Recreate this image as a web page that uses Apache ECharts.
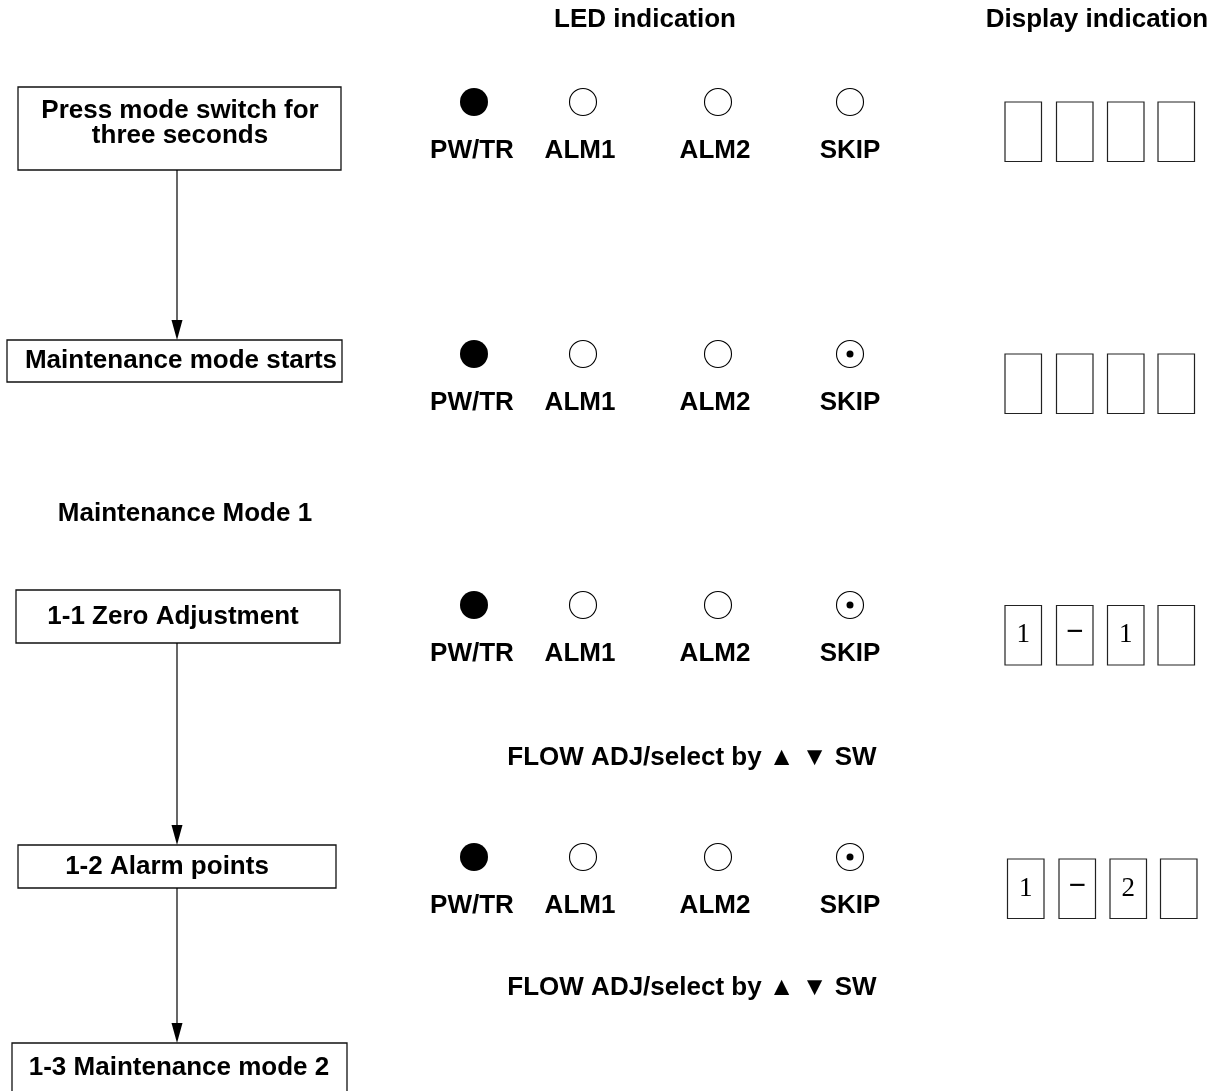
<!DOCTYPE html>
<html><head><meta charset="utf-8">
<script src="https://cdn.jsdelivr.net/npm/echarts@6/dist/echarts.min.js"></script>
<style>html,body{margin:0;padding:0;background:#fff}#c{width:1227px;height:1091px}</style>
</head><body><div id="c"></div>
<script>
// ---- data ----
const headers = ['LED indication', 'Display indication'];
const steps = ['Press mode switch for\nthree seconds', 'Maintenance mode starts', '1-1 Zero Adjustment', '1-2 Alarm points', '1-3 Maintenance mode 2'];
const modeTitle = 'Maintenance Mode 1';
const ledNames = ['PW/TR', 'ALM1', 'ALM2', 'SKIP'];
const ledStates = [
  ['on', 'off', 'off', 'off'],
  ['on', 'off', 'off', 'blink'],
  ['on', 'off', 'off', 'blink'],
  ['on', 'off', 'off', 'blink']
];
const displayDigits = [
  ['', '', '', ''],
  ['', '', '', ''],
  ['1', '\u2212', '1', ''],
  ['1', '\u2212', '2', '']
];
const adjustNote = 'FLOW ADJ/select by \u25B2 \u25BC SW';
const flowLinks = [[0, 1], [2, 3], [3, 4]];

// ---- layout (positions in axis units) ----
const L = {
  headers: [[645, 20], [1097, 20]],
  boxes: [
    {x0: 18, x1: 341, y0: 87, y1: 170, tx: 180, ty: 123},
    {x0: 7, x1: 342, y0: 340, y1: 382, tx: 181},
    {x0: 16, x1: 340, y0: 590, y1: 643, tx: 173},
    {x0: 18, x1: 336, y0: 845, y1: 888, tx: 167},
    {x0: 12, x1: 347, y0: 1043, y1: 1096, tx: 179, ty: 1068}
  ],
  arrowX: 177,
  ledX: [474, 583, 718, 850],
  labelX: [472, 580, 715, 850],
  ledY: [102, 354, 605, 857],
  labelDY: 49,
  ledR: 13.5,
  dispX: [1005, 1056.5, 1107.5, 1158],
  dispDX: [0, 0, 0, 2.5],
  dispY: [102, 354, 605.5, 859],
  dispW: 36.5, dispH: 59.5,
  modeTitle: [185, 514],
  notes: [[692, 758], [692, 988]]
};
const FONT = 'bold 26px "Liberation Sans", Arial, sans-serif';
const SERIF = '27px "Liberation Serif", "Times New Roman", serif';
const DASH = 'bold 31px "Liberation Serif", "Times New Roman", serif';

const chart = echarts.init(document.getElementById('c'), null, {renderer: 'canvas'});

function txt(api, x, y, text, font, lh) {
  const p = api.coord([x, y]);
  return {type: 'text', x: p[0], y: p[1], style: {text: text, font: font, fill: '#000', align: 'center', verticalAlign: 'middle', lineHeight: lh || 26}};
}

const option = {
  animation: false,
  grid: {left: 0, right: 0, top: 0, bottom: 0},
  xAxis: {type: 'value', min: 0, max: 1227, show: false},
  yAxis: {type: 'value', min: 0, max: 1091, inverse: true, show: false},
  series: [
    { // headers
      type: 'custom', data: headers.map((h, i) => [i]),
      renderItem: (p, api) => { const i = api.value(0); return txt(api, L.headers[i][0], L.headers[i][1], headers[i], FONT); }
    },
    { // flow boxes
      type: 'custom', data: steps.map((s, i) => [i]),
      renderItem: (p, api) => {
        const i = api.value(0), b = L.boxes[i];
        const a = api.coord([b.x0, b.y0]), c = api.coord([b.x1, b.y1]);
        return {type: 'group', children: [
          {type: 'rect', shape: {x: a[0], y: a[1], width: c[0] - a[0], height: c[1] - a[1]}, style: {fill: '#fff', stroke: '#111', lineWidth: 1.3}},
          txt(api, b.tx, b.ty != null ? b.ty : (b.y0 + b.y1) / 2, steps[i], FONT, 25)
        ]};
      }
    },
    { // arrows
      type: 'custom', data: flowLinks.map((l, i) => [i]),
      renderItem: (p, api) => {
        const l = flowLinks[api.value(0)];
        const s = api.coord([L.arrowX, L.boxes[l[0]].y1]), e = api.coord([L.arrowX, L.boxes[l[1]].y0]);
        return {type: 'group', children: [
          {type: 'line', shape: {x1: s[0], y1: s[1], x2: e[0], y2: e[1] - 18}, style: {stroke: '#000', lineWidth: 1.2}},
          {type: 'polygon', shape: {points: [[e[0] - 5.5, e[1] - 20], [e[0] + 5.5, e[1] - 20], [e[0], e[1]]]}, style: {fill: '#000'}}
        ]};
      }
    },
    { // LEDs
      type: 'custom', data: ledStates.flatMap((row, r) => row.map((s, k) => [r, k])),
      renderItem: (p, api) => {
        const r = api.value(0), k = api.value(1), st = ledStates[r][k];
        const c = api.coord([L.ledX[k], L.ledY[r]]);
        const ch = [];
        if (st === 'on') ch.push({type: 'circle', shape: {cx: c[0], cy: c[1], r: L.ledR + 0.5}, style: {fill: '#000'}});
        else ch.push({type: 'circle', shape: {cx: c[0], cy: c[1], r: L.ledR}, style: {fill: '#fff', stroke: '#000', lineWidth: 1.1}});
        if (st === 'blink') ch.push({type: 'circle', shape: {cx: c[0], cy: c[1], r: 3.5}, style: {fill: '#000'}});
        return {type: 'group', children: ch};
      }
    },
    { // LED labels
      type: 'custom', data: ledStates.flatMap((row, r) => row.map((s, k) => [r, k])),
      renderItem: (p, api) => {
        const r = api.value(0), k = api.value(1);
        return txt(api, L.labelX[k], L.ledY[r] + L.labelDY, ledNames[k], FONT);
      }
    },
    { // display cells
      type: 'custom', data: displayDigits.flatMap((row, r) => row.map((d, k) => [r, k])),
      renderItem: (p, api) => {
        const r = api.value(0), k = api.value(1), d = displayDigits[r][k];
        const x0 = L.dispX[k] + L.dispDX[r], y0 = L.dispY[r];
        const a = api.coord([x0, y0]), c = api.coord([x0 + L.dispW, y0 + L.dispH]);
        return {type: 'group', children: [
          {type: 'rect', shape: {x: a[0], y: a[1], width: c[0] - a[0], height: c[1] - a[1]}, style: {fill: '#fff', stroke: '#222', lineWidth: 1.2}},
          txt(api, x0 + L.dispW / 2, y0 + L.dispH / 2 + (d === '\u2212' ? -2 : 0), d, d === '\u2212' ? DASH : SERIF)
        ]};
      }
    },
    { // notes
      type: 'custom', data: [[0], [1], [2]],
      renderItem: (p, api) => {
        const i = api.value(0);
        if (i === 0) return txt(api, L.modeTitle[0], L.modeTitle[1], modeTitle, FONT);
        const n = L.notes[i - 1];
        return txt(api, n[0], n[1], adjustNote, FONT);
      }
    }
  ]
};
chart.setOption(option);
</script>
</body></html>
